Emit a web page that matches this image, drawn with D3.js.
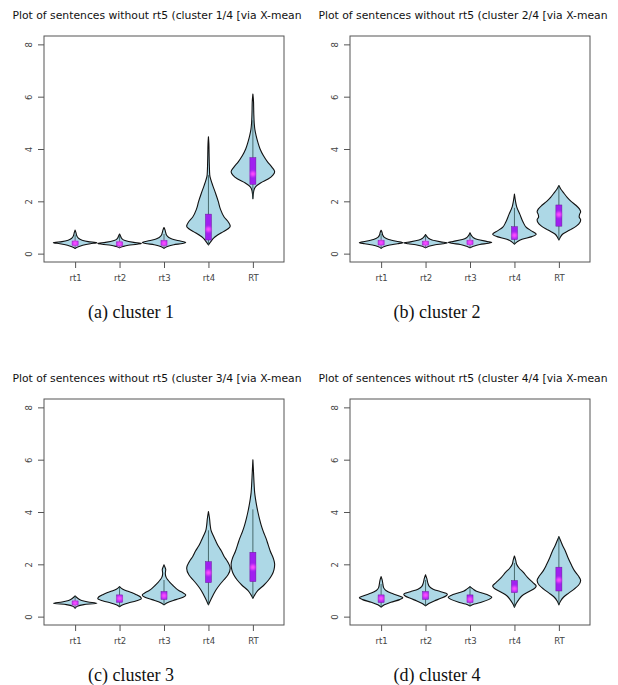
<!DOCTYPE html>
<html>
<head>
<meta charset="utf-8">
<script src="https://cdn.jsdelivr.net/npm/d3@7"></script>
<style>
  html, body { margin: 0; padding: 0; background: #fff; }
  svg { display: block; }
</style>
</head>
<body>
<svg id="chart" width="618" height="685"></svg>
<script>
// Measures shown on every panel
const categories = ["rt1", "rt2", "rt3", "rt4", "RT"];
const yTicks = [0, 2, 4, 6, 8];
const titles = [
  "Plot of sentences without rt5 (cluster 1/4 [via X-mean",
  "Plot of sentences without rt5 (cluster 2/4 [via X-mean",
  "Plot of sentences without rt5 (cluster 3/4 [via X-mean",
  "Plot of sentences without rt5 (cluster 4/4 [via X-mean"
];
const captions = ["(a) cluster 1", "(b) cluster 2", "(c) cluster 3", "(d) cluster 4"];

// Density profiles: [value, relative half-width] from bottom to top of each violin
const cluster1Density = [
  [[0.2,0],[0.25,0.12],[0.32,0.35],[0.38,0.7],[0.42,1.0],[0.46,0.6],[0.52,0.3],[0.6,0.14],[0.7,0.07],[0.8,0.04],[0.9,0]],
  [[0.22,0],[0.27,0.15],[0.32,0.4],[0.36,0.8],[0.39,1.0],[0.43,0.65],[0.5,0.25],[0.58,0.1],[0.66,0.05],[0.75,0]],
  [[0.2,0],[0.27,0.15],[0.34,0.45],[0.39,0.85],[0.43,1.0],[0.48,0.75],[0.55,0.4],[0.62,0.22],[0.7,0.12],[0.8,0.08],[0.9,0.05],[1.0,0]],
  [[0.33,0],[0.45,0.1],[0.6,0.25],[0.8,0.6],[0.95,0.9],[1.05,1.0],[1.2,0.92],[1.4,0.72],[1.7,0.55],[2.0,0.45],[2.3,0.33],[2.6,0.2],[2.8,0.12],[3.0,0.06],[3.4,0.04],[3.8,0.03],[4.2,0.02],[4.47,0]],
  [[2.1,0],[2.4,0.04],[2.55,0.12],[2.7,0.35],[2.85,0.7],[3.0,0.92],[3.13,1.0],[3.3,0.88],[3.5,0.68],[3.75,0.48],[4.0,0.33],[4.25,0.23],[4.5,0.15],[4.75,0.09],[5.0,0.06],[5.4,0.04],[5.8,0.03],[6.1,0]]
];
const cluster2Density = [
  [[0.2,0],[0.26,0.12],[0.33,0.4],[0.38,0.75],[0.42,1.0],[0.47,0.7],[0.54,0.35],[0.62,0.15],[0.72,0.07],[0.82,0.04],[0.89,0]],
  [[0.22,0],[0.28,0.15],[0.34,0.45],[0.38,0.8],[0.41,1.0],[0.45,0.7],[0.52,0.3],[0.6,0.12],[0.67,0.05],[0.73,0]],
  [[0.22,0],[0.28,0.15],[0.35,0.45],[0.4,0.85],[0.43,1.0],[0.47,0.75],[0.54,0.35],[0.62,0.14],[0.7,0.06],[0.8,0]],
  [[0.36,0],[0.45,0.12],[0.55,0.35],[0.65,0.8],[0.74,1.0],[0.85,0.82],[1.0,0.55],[1.2,0.4],[1.5,0.25],[1.8,0.1],[2.0,0.05],[2.28,0]],
  [[0.52,0],[0.6,0.05],[0.75,0.18],[0.9,0.5],[1.05,0.8],[1.2,0.97],[1.3,1.0],[1.4,0.93],[1.5,0.95],[1.6,1.0],[1.7,0.95],[1.85,0.78],[2.0,0.56],[2.15,0.38],[2.3,0.24],[2.45,0.1],[2.6,0]]
];
const cluster3Density = [
  [[0.32,0],[0.4,0.1],[0.46,0.4],[0.51,1.0],[0.56,0.6],[0.62,0.3],[0.7,0.12],[0.79,0]],
  [[0.38,0],[0.45,0.15],[0.52,0.4],[0.6,0.75],[0.68,1.0],[0.76,0.95],[0.85,0.75],[0.92,0.55],[0.98,0.35],[1.05,0.15],[1.15,0]],
  [[0.45,0],[0.55,0.2],[0.65,0.55],[0.75,0.9],[0.83,1.0],[0.92,0.85],[1.0,0.68],[1.08,0.55],[1.2,0.4],[1.3,0.28],[1.4,0.18],[1.5,0.1],[1.65,0.06],[1.8,0.08],[1.9,0.04],[1.98,0]],
  [[0.45,0],[0.6,0.08],[0.8,0.2],[1.0,0.33],[1.2,0.5],[1.4,0.7],[1.6,0.9],[1.85,1.0],[2.1,0.88],[2.3,0.72],[2.5,0.6],[2.7,0.45],[2.9,0.33],[3.1,0.22],[3.3,0.12],[3.5,0.08],[3.75,0.05],[4.02,0]],
  [[0.7,0],[0.85,0.1],[1.0,0.23],[1.2,0.5],[1.4,0.72],[1.6,0.88],[1.8,0.97],[2.0,1.0],[2.2,0.95],[2.5,0.8],[2.75,0.7],[3.0,0.6],[3.25,0.48],[3.5,0.38],[3.75,0.3],[4.0,0.23],[4.25,0.17],[4.5,0.12],[4.75,0.08],[5.0,0.06],[5.5,0.03],[6.0,0]]
];
const cluster4Density = [
  [[0.36,0],[0.45,0.15],[0.55,0.45],[0.65,0.85],[0.72,1.0],[0.8,0.8],[0.9,0.45],[1.0,0.22],[1.1,0.12],[1.25,0.08],[1.4,0.05],[1.53,0]],
  [[0.41,0],[0.5,0.15],[0.6,0.4],[0.7,0.7],[0.8,0.95],[0.86,1.0],[0.95,0.7],[1.05,0.35],[1.15,0.18],[1.3,0.1],[1.45,0.06],[1.6,0]],
  [[0.41,0],[0.48,0.2],[0.56,0.55],[0.65,0.85],[0.74,1.0],[0.82,0.85],[0.9,0.55],[0.97,0.3],[1.05,0.15],[1.15,0]],
  [[0.36,0],[0.5,0.08],[0.65,0.2],[0.8,0.35],[0.95,0.65],[1.1,0.95],[1.17,1.0],[1.3,0.85],[1.5,0.6],[1.7,0.4],[1.85,0.22],[2.0,0.1],[2.15,0.06],[2.32,0]],
  [[0.45,0],[0.6,0.08],[0.75,0.22],[0.9,0.45],[1.05,0.7],[1.2,0.9],[1.38,1.0],[1.55,0.9],[1.75,0.72],[2.0,0.56],[2.25,0.42],[2.5,0.3],[2.7,0.18],[2.9,0.08],[3.06,0]]
];

// Box statistics per violin: [lower whisker, q1, median, q3, upper whisker]
const cluster1Boxes = [
  [0.2, 0.32, 0.4, 0.48, 0.72],
  [0.22, 0.3, 0.37, 0.45, 0.68],
  [0.2, 0.32, 0.4, 0.5, 0.75],
  [0.33, 0.52, 0.93, 1.51, 3.0],
  [2.1, 2.65, 3.05, 3.67, 5.1]
];
const cluster2Boxes = [
  [0.2, 0.33, 0.42, 0.5, 0.75],
  [0.22, 0.33, 0.4, 0.47, 0.68],
  [0.22, 0.35, 0.43, 0.5, 0.72],
  [0.36, 0.54, 0.7, 1.03, 1.75],
  [0.52, 1.05, 1.5, 1.86, 2.6]
];
const cluster3Boxes = [
  [0.32, 0.45, 0.52, 0.6, 0.79],
  [0.38, 0.55, 0.7, 0.83, 1.15],
  [0.45, 0.66, 0.8, 0.96, 1.4],
  [0.45, 1.3, 1.68, 2.1, 3.3],
  [0.7, 1.34, 1.89, 2.46, 4.1]
];
const cluster4Boxes = [
  [0.36, 0.54, 0.7, 0.83, 1.25],
  [0.41, 0.66, 0.82, 0.96, 1.4],
  [0.41, 0.54, 0.66, 0.83, 1.15],
  [0.36, 0.92, 1.07, 1.38, 2.05],
  [0.45, 0.98, 1.4, 1.89, 3.06]
];

const densities = [cluster1Density, cluster2Density, cluster3Density, cluster4Density];
const boxes = [cluster1Boxes, cluster2Boxes, cluster3Boxes, cluster4Boxes];

// Panel placement
const panelOffsets = [[0, 0], [306, 0], [0, 363], [306, 363]];
const plot = { left: 44, right: 284, top: 36, bottom: 262 };

const svg = d3.select("#chart");

const defs = svg.append("defs");
defs.append("filter").attr("id", "soft")
  .attr("x", "-100%").attr("y", "-100%").attr("width", "300%").attr("height", "300%")
  .append("feGaussianBlur").attr("stdDeviation", 0.9);

const x = d3.scaleLinear().domain([0.3, 5.7]).range([plot.left, plot.right]);
const y = d3.scaleLinear().domain([-0.32, 8.32]).range([plot.bottom, plot.top]);
const halfWidth = 0.49;

densities.forEach((panelDensity, p) => {
  const [dx, dy] = panelOffsets[p];
  const g = svg.append("g").attr("transform", `translate(${dx},${dy})`);

  // title
  g.append("text")
    .attr("x", 12.5).attr("y", 19)
    .attr("font-family", "'DejaVu Sans', sans-serif")
    .attr("font-size", 10)
    .attr("textLength", 289).attr("lengthAdjust", "spacingAndGlyphs")
    .attr("fill", "#111")
    .text(titles[p]);

  // y axis
  const yAxis = d3.axisLeft(y).tickValues(yTicks).tickSize(6).tickFormat(d3.format("d"));
  const ya = g.append("g").attr("transform", `translate(${plot.left},0)`).call(yAxis);
  ya.select(".domain").remove();
  ya.selectAll(".tick line").attr("stroke", "#555");
  ya.selectAll(".tick text")
    .attr("font-family", "'DejaVu Sans', sans-serif")
    .attr("font-size", 8.5).attr("fill", "#444")
    .attr("x", 0).attr("dy", 0)
    .attr("transform", "translate(-15,0) rotate(-90)")
    .attr("text-anchor", "middle")
    .attr("dominant-baseline", "central");

  // x axis
  const xAxis = d3.axisBottom(x).tickValues([1, 2, 3, 4, 5]).tickSize(6)
    .tickFormat((d) => categories[d - 1]);
  const xa = g.append("g").attr("transform", `translate(0,${plot.bottom})`).call(xAxis);
  xa.select(".domain").remove();
  xa.selectAll(".tick line").attr("stroke", "#555");
  xa.selectAll(".tick text")
    .attr("font-family", "'DejaVu Sans', sans-serif")
    .attr("font-size", 8.5).attr("fill", "#444")
    .attr("y", 16).attr("dy", "0.32em");

  // violins
  panelDensity.forEach((profile, i) => {
    const c = i + 1;
    const area = d3.area()
      .curve(d3.curveMonotoneY)
      .y((d) => y(d[0]))
      .x0((d) => x(c - halfWidth * d[1]))
      .x1((d) => x(c + halfWidth * d[1]));
    g.append("path")
      .attr("d", area(profile))
      .attr("fill", "#add8e6")
      .attr("stroke", "#111")
      .attr("stroke-width", 1.1)
      .attr("stroke-linejoin", "round");

    const [lo, q1, med, q3, hi] = boxes[p][i];
    g.append("line")
      .attr("x1", x(c)).attr("x2", x(c))
      .attr("y1", y(lo)).attr("y2", y(hi))
      .attr("stroke", "#2f4f4f").attr("stroke-width", 0.8);
    g.append("rect")
      .attr("x", x(c) - 3).attr("width", 6)
      .attr("y", y(q3)).attr("height", y(q1) - y(q3))
      .attr("fill", "#a020f0")
      .attr("stroke", "#6a1a9a").attr("stroke-width", 0.5);
    g.append("circle")
      .attr("cx", x(c)).attr("cy", y(med)).attr("r", 2.6)
      .attr("fill", "#ff4dff")
      .attr("filter", "url(#soft)");
  });

  // plot frame
  g.append("rect")
    .attr("x", plot.left).attr("y", plot.top)
    .attr("width", plot.right - plot.left).attr("height", plot.bottom - plot.top)
    .attr("fill", "none").attr("stroke", "#555").attr("stroke-width", 1);

  // caption
  g.append("text")
    .attr("x", 131).attr("y", 318)
    .attr("text-anchor", "middle")
    .attr("font-family", "'Liberation Serif', serif")
    .attr("font-size", 18)
    .attr("fill", "#111")
    .text(captions[p]);
});
</script>
</body>
</html>
